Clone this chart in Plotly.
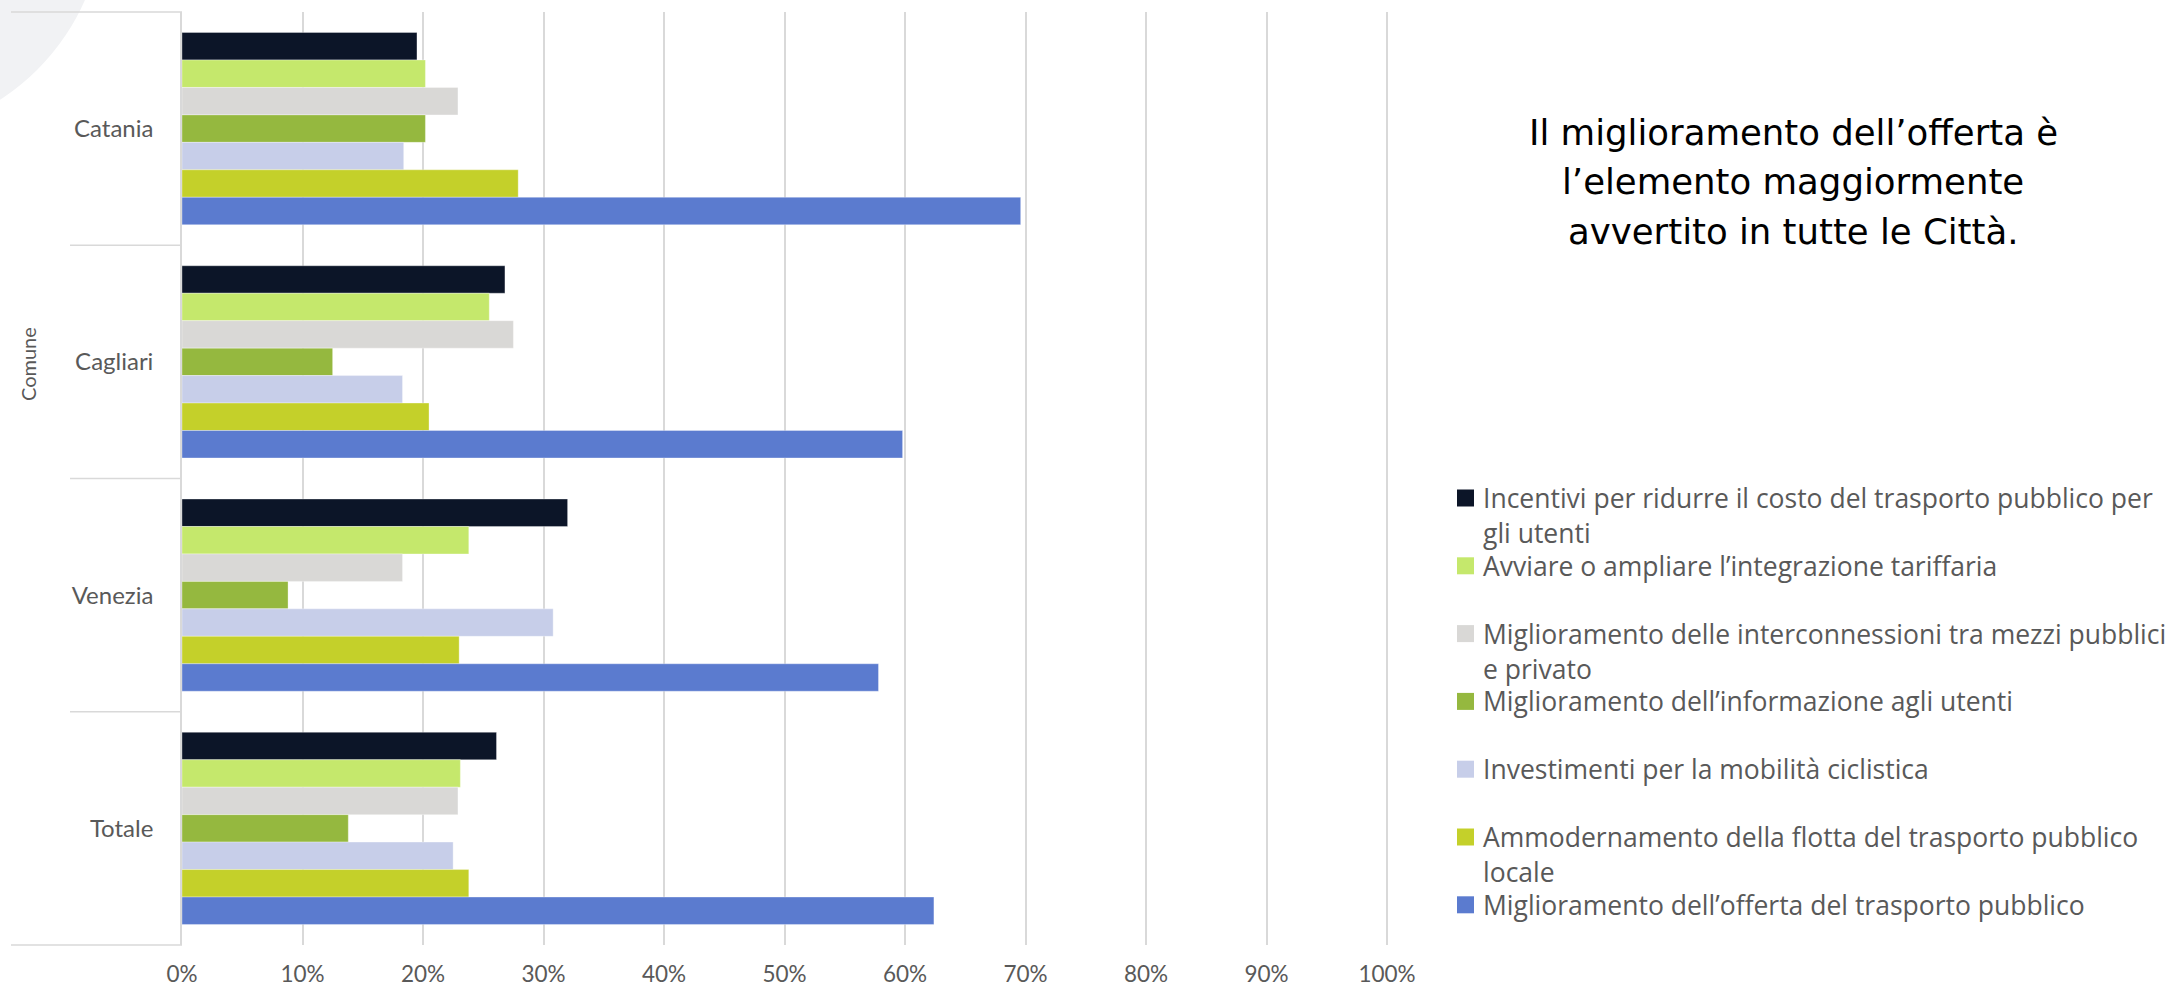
import plotly.graph_objects as go

# ---- data -------------------------------------------------------------
cities = ["Catania", "Cagliari", "Venezia", "Totale"]

series_names = [
    "Incentivi per ridurre il costo del trasporto pubblico per<br>gli utenti",
    "Avviare o ampliare l’integrazione tariffaria",
    "Miglioramento delle interconnessioni tra mezzi pubblici<br>e privato",
    "Miglioramento dell’informazione agli utenti",
    "Investimenti per la mobilità ciclistica",
    "Ammodernamento della flotta del trasporto pubblico<br>locale",
    "Miglioramento dell’offerta del trasporto pubblico",
]

# percentage values, one list per measure, ordered as `cities`
incentivi = [19.5, 26.8, 32.0, 26.1]
integrazione = [20.2, 25.5, 23.8, 23.1]
interconnessioni = [22.9, 27.5, 18.3, 22.9]
informazione = [20.2, 12.5, 8.8, 13.8]
ciclistica = [18.4, 18.3, 30.8, 22.5]
flotta = [27.9, 20.5, 23.0, 23.8]
offerta = [69.6, 59.8, 57.8, 62.4]

series_values = [incentivi, integrazione, interconnessioni, informazione,
                 ciclistica, flotta, offerta]

colors = ["#0C1528", "#C5E86C", "#D9D8D6", "#95B83F",
          "#C7CEE9", "#C4D02A", "#5B7BCF"]

x_ticks = list(range(0, 101, 10))

title_lines = ["Il miglioramento dell’offerta è",
               "l’elemento maggiormente",
               "avvertito in tutte le Città."]

# ---- geometry (pixels of the 2178x988 page) ---------------------------
W, H = 2178, 988
FONT = "Lato, 'Open Sans', sans-serif"
LEG_FONT = "'Open Sans', Lato, sans-serif"
TITLE_FONT = "'DejaVu Sans', 'Open Sans', sans-serif"
GREY_TXT = "#595959"
LINE = "#D9D9D9"

plot_left, plot_top, plot_bottom = 182, 12, 945
px_per_pct = 12.05
x_max = 100.2                     # a hair past 100 so the 100% gridline shows
plot_right = plot_left + px_per_pct * x_max


def px(x):
    return x / W


def py(y):
    return 1 - y / H


fig = go.Figure()

for name, vals, col in zip(series_names, series_values, colors):
    fig.add_trace(go.Bar(
        y=cities, x=vals, name=name.replace("<br>", " "), orientation="h",
        marker=dict(color=col, line=dict(color="rgba(255,255,255,0.55)", width=0.6)),
        showlegend=False,
        hovertemplate="%{y}: %{x:.1f}%<extra></extra>",
    ))

shapes = []

# decorative soft arc in the top-left corner
cx, cy, r = -123, -91, 227
shapes.append(dict(type="circle", xref="paper", yref="paper",
                   x0=px(cx - r), x1=px(cx + r), y0=py(cy + r), y1=py(cy - r),
                   fillcolor="#F1F2F4", line=dict(width=0), layer="below"))

# category separators to the left of the axis
sep_w = 1.6
shapes.append(dict(type="line", xref="paper", yref="paper",
                   x0=px(11), x1=px(plot_left), y0=py(plot_top), y1=py(plot_top),
                   line=dict(color=LINE, width=sep_w)))
shapes.append(dict(type="line", xref="paper", yref="paper",
                   x0=px(11), x1=px(plot_left), y0=py(plot_bottom), y1=py(plot_bottom),
                   line=dict(color=LINE, width=sep_w)))
band = (plot_bottom - plot_top) / len(cities)
for i in range(1, len(cities)):
    yy = plot_top + band * i
    shapes.append(dict(type="line", xref="paper", yref="paper",
                       x0=px(70), x1=px(plot_left), y0=py(yy), y1=py(yy),
                       line=dict(color=LINE, width=sep_w)))

annotations = []

# axis title
annotations.append(dict(text="Comune", xref="paper", yref="paper",
                        x=px(28), y=py(364), textangle=-90, showarrow=False,
                        xanchor="center", yanchor="middle",
                        font=dict(family=FONT, size=20, color=GREY_TXT)))

# headline on the right
for k, line in enumerate(title_lines):
    annotations.append(dict(text=line, xref="paper", yref="paper",
                            x=px(1793), y=py(132 + 49.5 * k), showarrow=False,
                            xanchor="center", yanchor="middle",
                            font=dict(family=TITLE_FONT, size=35.5, color="#000000")))

# legend drawn as swatches + labels
leg_x, sw = 1457, 17
for i, (name, col) in enumerate(zip(series_names, colors)):
    y0 = 498 + 67.8 * i
    shapes.append(dict(type="rect", xref="paper", yref="paper",
                       x0=px(leg_x), x1=px(leg_x + sw),
                       y0=py(y0 + sw / 2), y1=py(y0 - sw / 2),
                       fillcolor=col, line=dict(width=0)))
    for j, part in enumerate(name.split("<br>")):
        annotations.append(dict(text=part, xref="paper", yref="paper",
                                x=px(leg_x + 24), y=py(y0 + 35 * j),
                                showarrow=False, xanchor="left", yanchor="middle",
                                font=dict(family=LEG_FONT, size=26.5, color=GREY_TXT)))

fig.update_layout(
    width=W, height=H,
    margin=dict(l=0, r=0, t=0, b=0, pad=0, autoexpand=False),
    paper_bgcolor="white", plot_bgcolor="white",
    barmode="group", bargap=0.176, bargroupgap=0,
    showlegend=False,
    font=dict(family=FONT, color=GREY_TXT),
    shapes=shapes, annotations=annotations,
    xaxis=dict(
        domain=[px(plot_left), px(plot_right)],
        range=[0, x_max], tickvals=x_ticks, ticktext=[f"{t}%" for t in x_ticks],
        showgrid=True, gridcolor=LINE, gridwidth=1.6,
        zeroline=False, showline=False, ticks="", automargin=False,
        tickfont=dict(family=FONT, size=22.5, color=GREY_TXT),
        ticklabelstandoff=13, fixedrange=True,
    ),
    yaxis=dict(
        domain=[py(plot_bottom), py(plot_top)],
        categoryorder="array", categoryarray=cities,
        range=[len(cities) - 0.5, -0.5],
        showgrid=False, zeroline=False, automargin=False,
        showline=True, linecolor=LINE, linewidth=1.6,
        ticks="", ticklabelstandoff=22,
        tickfont=dict(family=FONT, size=24, color=GREY_TXT),
        fixedrange=True,
    ),
)

fig.write_html("out.html")
